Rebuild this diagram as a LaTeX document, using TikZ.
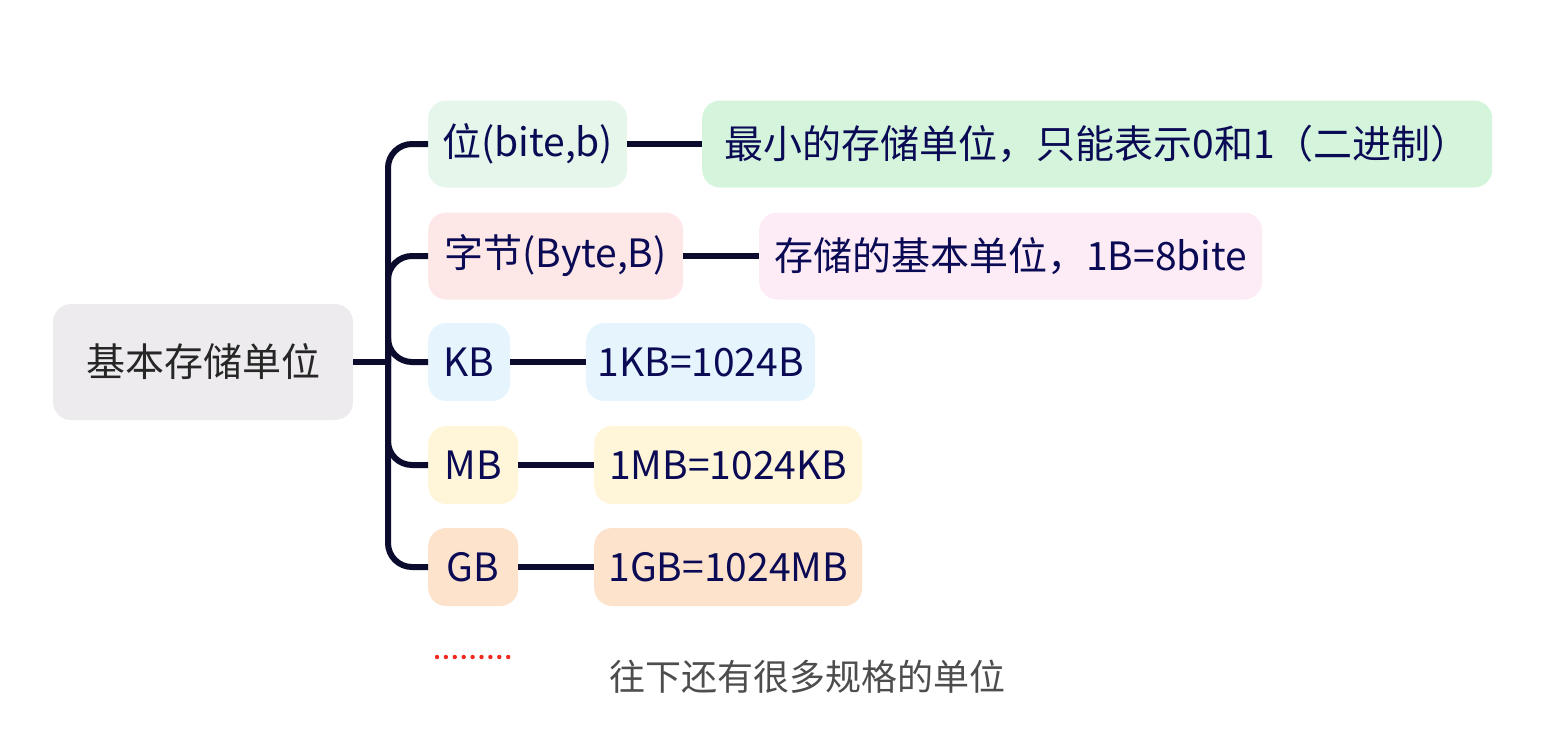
\documentclass[tikz,border=0pt]{standalone}
\usepackage{fontspec}
\setmainfont{Noto Sans CJK SC}
\definecolor{ink}{HTML}{0A0A55}
\definecolor{linecol}{HTML}{0B0B2E}
\definecolor{rootgray}{HTML}{EDEBEE}
\definecolor{greenA}{HTML}{E6F6EA}
\definecolor{greenB}{HTML}{D4F5DB}
\definecolor{pinkA}{HTML}{FDE8E7}
\definecolor{pinkB}{HTML}{FDEBF5}
\definecolor{blueA}{HTML}{E6F4FD}
\definecolor{yellowA}{HTML}{FFF6D9}
\definecolor{orangeA}{HTML}{FDE2CC}
\definecolor{dotred}{HTML}{F0281E}
\definecolor{notegray}{HTML}{4D4D4D}
\tikzset{
  box/.style={rounded corners=18pt,inner sep=0pt,text=ink,anchor=west,
    font=\fontsize{39}{42}\selectfont,minimum height=78pt},
  tall/.style={minimum height=87pt},
  link/.style={line width=6pt,draw=linecol}
}
\begin{document}
\begin{tikzpicture}[x=1pt,y=-1pt]
    \useasboundingbox (0,0) rectangle (1554,747);
    \node[rounded corners=18pt,fill=rootgray,minimum width=300pt,minimum height=116pt,
          font=\fontsize{39}{42}\selectfont,text=black!85] (root) at (203,362) {基本存储单位};
    % first level
    \node[box,tall,fill=greenA,minimum width=199pt] (bit) at (428,144) {位(bite,b)};
    \node[box,tall,fill=pinkA,minimum width=255pt] (byte) at (428,256) {字节(Byte,B)};
    \node[box,fill=blueA,minimum width=82pt] (kb) at (428,362) {KB};
    \node[box,fill=yellowA,minimum width=90pt] (mb) at (428,465) {MB};
    \node[box,fill=orangeA,minimum width=90pt] (gb) at (428,567) {GB};
    % second level
    \node[box,tall,fill=greenB,minimum width=790pt] (bitnote) at (702,144) {最小的存储单位，只能表示0和1（二进制）};
    \node[box,tall,fill=pinkB,minimum width=503pt] (bytenote) at (759,256) {存储的基本单位，1B=8bite};
    \node[box,fill=blueA,minimum width=229pt] (kbnote) at (586,362) {1KB=1024B};
    \node[box,fill=yellowA,minimum width=268pt] (mbnote) at (594,465) {1MB=1024KB};
    \node[box,fill=orangeA,minimum width=268pt] (gbnote) at (594,567) {1GB=1024MB};
    % branches
    \coordinate (trunk) at (388,362);
    \draw[link] (root.east) -- (trunk);
    \foreach \n in {bit,byte,kb,mb,gb}
        \draw[link,rounded corners=24pt] (trunk) |- (\n.west);
    \foreach \n in {bit,byte,kb,mb,gb}
        \draw[link] (\n.east) -- (\n note.west);
    % more units below
    \foreach \i in {0,...,8}
        \fill[dotred] (437+\i*8.9,657) circle (2.2);
    \node[font=\fontsize{36}{40}\selectfont,text=notegray] (more) at (807,677) {往下还有很多规格的单位};
\end{tikzpicture}
\end{document}
